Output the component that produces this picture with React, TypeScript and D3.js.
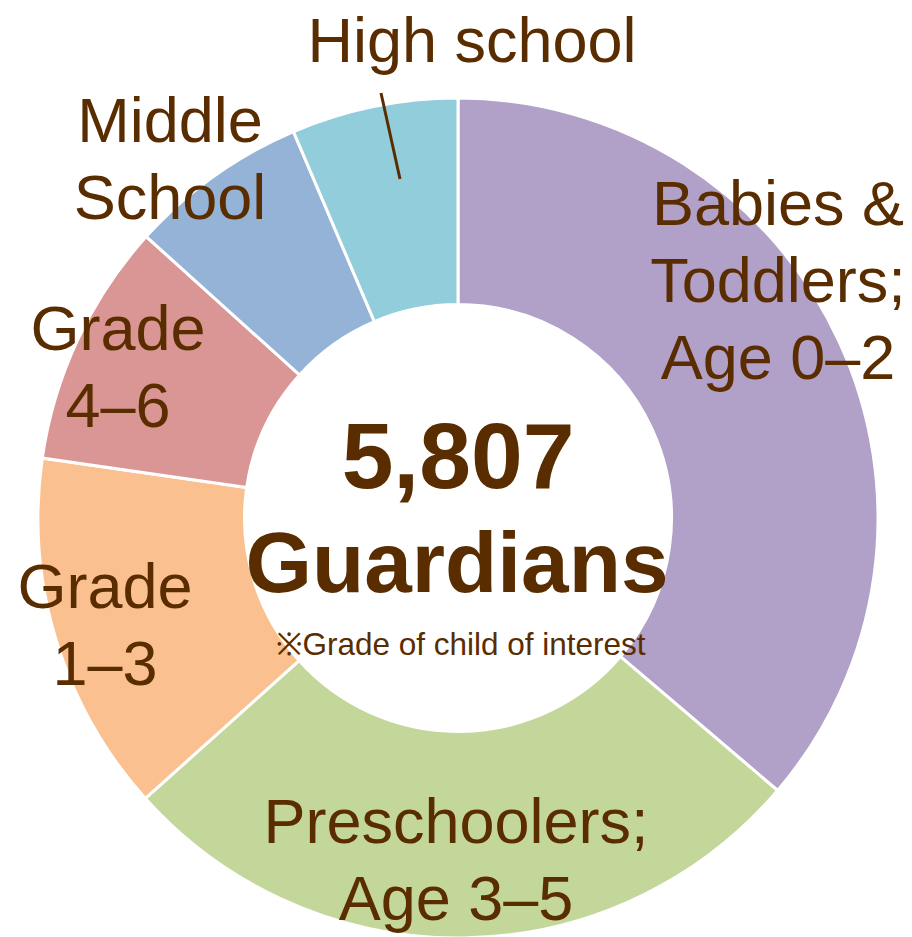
import * as d3 from 'd3';
import { useEffect, useRef } from 'react';

// share of guardians by grade of child (percent, clockwise from top)
const categories = ['Babies & Toddlers; Age 0–2', 'Preschoolers; Age 3–5', 'Grade 1–3', 'Grade 4–6', 'Middle School', 'High school'];
const shares = [36.2, 27.1, 13.9, 9.4, 6.9, 6.4];
const labelLines = [
    ['Babies &', 'Toddlers;', 'Age 0–2'],
    ['Preschoolers;', 'Age 3–5'],
    ['Grade', '1–3'],
    ['Grade', '4–6'],
    ['Middle', 'School'],
    ['High school'],
];
const colors = ['#B1A0C7', '#C4D79B', '#FAC090', '#DA9694', '#95B3D7', '#92CDDC'];
const totalLabel = '5,807';
const unitLabel = 'Guardians';
const noteLabel = '※Grade of child of interest';

// label anchors (center x, first baseline) -- layout only
const labelPos: [number, number][] = [
    [778, 225],
    [456, 843],
    [105, 608],
    [118, 350],
    [170, 142],
    [472, 62],
];

const textColor = '#5A2D00';
const font = '"Liberation Sans", Arial, sans-serif';

const App: React.FC = () => {
    const ref = useRef<HTMLDivElement | null>(null);

    useEffect(() => {
        if (!ref.current) return;
        const width = 912;
        const height = 937;
        const cx = 458;
        const cy = 518;
        const outerR = 420;
        const innerR = 213.5;

        d3.select(ref.current).selectAll('*').remove();

        const svg = d3.select(ref.current).append('svg')
            .attr('width', width)
            .attr('height', height)
            .style('display', 'block')
            .style('background', '#fff');

        const data = categories.map((c, i) => ({ name: c, value: shares[i], i }));

        const pie = d3.pie<{ name: string; value: number; i: number }>()
            .sort(null)
            .value(d => d.value);

        const arc = d3.arc<d3.PieArcDatum<{ name: string; value: number; i: number }>>()
            .innerRadius(innerR)
            .outerRadius(outerR);

        const g = svg.append('g').attr('transform', `translate(${cx},${cy})`);

        g.selectAll('path')
            .data(pie(data))
            .enter().append('path')
            .attr('d', arc)
            .attr('fill', d => colors[d.data.i])
            .attr('stroke', '#fff')
            .attr('stroke-width', 3)
            .attr('stroke-linejoin', 'miter');

        // slice labels
        labelLines.forEach((lines, i) => {
            const [x, y] = labelPos[i];
            const t = svg.append('text')
                .attr('text-anchor', 'middle')
                .attr('font-family', font)
                .attr('font-size', 63)
                .attr('fill', textColor);
            lines.forEach((line, j) => {
                t.append('tspan')
                    .attr('x', x)
                    .attr('y', y + j * 77)
                    .text(line);
            });
        });

        // leader line for the small "High school" slice
        svg.append('line')
            .attr('x1', 381).attr('y1', 93)
            .attr('x2', 400).attr('y2', 179)
            .attr('stroke', textColor)
            .attr('stroke-width', 3);

        // center text
        svg.append('text')
            .attr('x', 458).attr('y', 488)
            .attr('text-anchor', 'middle')
            .attr('font-family', font)
            .attr('font-weight', 'bold')
            .attr('font-size', 93)
            .attr('fill', textColor)
            .text(totalLabel);

        svg.append('text')
            .attr('x', 457).attr('y', 592)
            .attr('text-anchor', 'middle')
            .attr('font-family', font)
            .attr('font-weight', 'bold')
            .attr('font-size', 85.5)
            .attr('fill', textColor)
            .text(unitLabel);

        svg.append('text')
            .attr('x', 461).attr('y', 655)
            .attr('text-anchor', 'middle')
            .attr('font-family', font)
            .attr('font-size', 31.5)
            .attr('fill', textColor)
            .text(noteLabel);
    }, []);

    return (
        <div ref={ref} style={{ position: 'absolute', left: 0, top: 0 }} />
    );
};

export default App;
